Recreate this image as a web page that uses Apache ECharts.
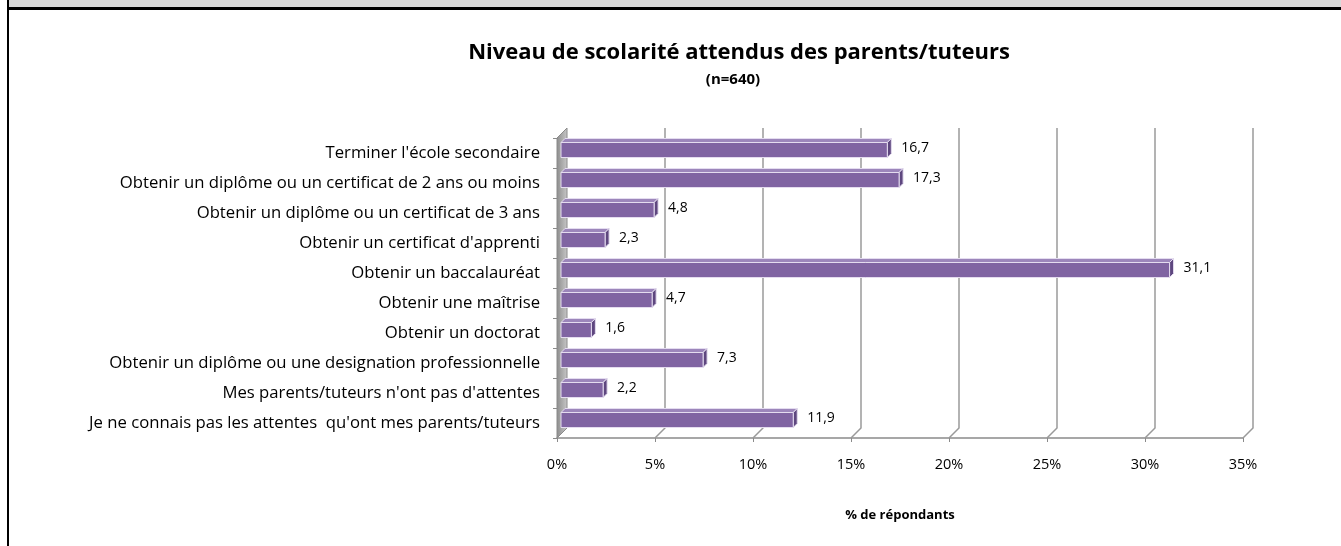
<!DOCTYPE html>
<html>
<head>
<meta charset="utf-8">
<script src="https://cdn.jsdelivr.net/npm/echarts@6/dist/echarts.min.js"></script>
<style>
html, body { margin: 0; padding: 0; background: #fff; }
#frame { position: absolute; left: 0; top: 0; width: 1341px; height: 546px; overflow: hidden; }
#band { position: absolute; left: 9px; top: 0; width: 1332px; height: 7px; background: #d9d9d9; }
#hline { position: absolute; left: 7px; top: 7px; width: 1334px; height: 3px; background: #000; }
#vline { position: absolute; left: 7px; top: 0; width: 2px; height: 546px; background: #000; }
#chart { position: absolute; left: 0; top: 0; width: 1341px; height: 546px; }
</style>
</head>
<body>
<div id="frame">
	<div id="chart"></div>
	<div id="band"></div>
	<div id="hline"></div>
	<div id="vline"></div>
</div>
<script>
var categories = [
	"Terminer l'école secondaire",
	"Obtenir un diplôme ou un certificat de 2 ans ou moins",
	"Obtenir un diplôme ou un certificat de 3 ans",
	"Obtenir un certificat d'apprenti",
	"Obtenir un baccalauréat",
	"Obtenir une maîtrise",
	"Obtenir un doctorat",
	"Obtenir un diplôme ou une designation professionnelle",
	"Mes parents/tuteurs n'ont pas d'attentes",
	"Je ne connais pas les attentes  qu'ont mes parents/tuteurs"
];
var percents = [16.7, 17.3, 4.8, 2.3, 31.1, 4.7, 1.6, 7.3, 2.2, 11.9];
var xTicks = [0, 5, 10, 15, 20, 25, 30, 35];

var FONT = 'Open Sans';
var DEPTH = 10;   // profondeur des murs 3D
var BAR_D = 4;    // profondeur des barres

// murs et lignes de grille en perspective
function renderWall(params, api) {
	var cs = params.coordSys;
	var v = api.value(0);
	var x = api.coord([v, 0])[0];
	var top = cs.y, bottom = cs.y + cs.height;
	if (v === 0) {
		return {
			type : 'polygon',
			shape : {
				points : [ [ x, bottom ], [ x + DEPTH, bottom - DEPTH ], [ x + DEPTH, top - DEPTH ], [ x, top ] ]
			},
			style : {
				fill : new echarts.graphic.LinearGradient(0, 0, 1, 0, [ {
					offset : 0,
					color : '#8c8c8c'
				}, {
					offset : 1,
					color : '#c8c8c8'
				} ]),
				stroke : '#8a8a8a',
				lineWidth : 1
			}
		};
	}
	return {
		type : 'polyline',
		shape : {
			points : [ [ x, bottom ], [ x + DEPTH, bottom - DEPTH ], [ x + DEPTH, top - DEPTH ] ]
		},
		style : {
			stroke : '#9a9a9a',
			lineWidth : 1.5,
			fill : null
		}
	};
}

// barres 3D
function renderBar(params, api) {
	var val = api.value(0);
	var idx = api.value(1);
	var p0 = api.coord([0, idx]);
	var p1 = api.coord([val, idx]);
	var band = api.size([0, 1])[1];
	var h = band * 0.5;
	var off = 3;
	var x0 = p0[0] + off + 1, x1 = p1[0] + off;
	var y0 = p0[1] - off - h / 2, y1 = y0 + h;
	var d = BAR_D;
	var edge = '#e4dcef';
	return {
		type : 'group',
		children : [ {
			type : 'polygon',
			shape : { points : [ [ x0, y0 ], [ x0 + d, y0 - d ], [ x1 + d, y0 - d ], [ x1, y0 ] ] },
			style : { fill : '#9c86bb', stroke : edge, lineWidth : 1 }
		}, {
			type : 'polygon',
			shape : { points : [ [ x1, y0 ], [ x1 + d, y0 - d ], [ x1 + d, y1 - d ], [ x1, y1 ] ] },
			style : { fill : '#5e477f', stroke : edge, lineWidth : 1 }
		}, {
			type : 'rect',
			shape : { x : x0, y : y0, width : x1 - x0, height : h },
			style : { fill : '#8064a2', stroke : edge, lineWidth : 1 }
		}, {
			type : 'text',
			style : {
				x : x1 + d + 10,
				y : y0 + h / 2 - 2,
				text : val.toFixed(1).replace('.', ','),
				fill : '#000',
				font : '14px "' + FONT + '"',
				verticalAlign : 'middle',
				align : 'left'
			}
		} ]
	};
}

var barData = percents.map(function(v, i) {
	return [ v, i ];
});
var wallData = xTicks.map(function(v) {
	return [ v ];
});

var option = {
	animation : false,
	textStyle : { fontFamily : FONT },
	graphic : [ {
		type : 'text',
		x : 739,
		y : 53,
		style : {
			text : 'Niveau de scolarité attendus des parents/tuteurs',
			font : 'bold 22px "' + FONT + '"',
			fill : '#000',
			align : 'center',
			verticalAlign : 'middle'
		}
	}, {
		type : 'text',
		x : 733,
		y : 80,
		style : {
			text : '(n=640)',
			font : 'bold 15px "' + FONT + '"',
			fill : '#000',
			align : 'center',
			verticalAlign : 'middle'
		}
	} ],
	grid : {
		left : 557,
		right : 98,
		top : 138,
		bottom : 108
	},
	xAxis : {
		type : 'value',
		min : 0,
		max : 35,
		interval : 5,
		name : '% de répondants',
		nameLocation : 'middle',
		nameGap : 71,
		nameTextStyle : {
			fontWeight : 'bold',
			fontSize : 13,
			color : '#000'
		},
		axisLine : { show : true, lineStyle : { color : '#8a8a8a', width : 1.5 } },
		axisTick : { show : true, length : 4, lineStyle : { color : '#8a8a8a' } },
		axisLabel : {
			margin : 19,
			fontSize : 14.5,
			color : '#000',
			formatter : '{value}%'
		},
		splitLine : { show : false }
	},
	yAxis : {
		type : 'category',
		inverse : true,
		data : categories,
		axisLine : { show : false },
		axisTick : { show : true, length : 4, lineStyle : { color : '#8a8a8a' } },
		axisLabel : {
			margin : 17,
			fontSize : 16.7,
			color : '#000'
		}
	},
	series : [ {
		type : 'custom',
		z : 1,
		renderItem : renderWall,
		data : wallData,
		encode : { x : 0 },
		silent : true
	}, {
		type : 'custom',
		z : 3,
		renderItem : renderBar,
		data : barData,
		encode : { x : 0, y : 1 }
	} ]
};

var myChart = echarts.init(document.getElementById('chart'));
myChart.setOption(option);
</script>
</body>
</html>
